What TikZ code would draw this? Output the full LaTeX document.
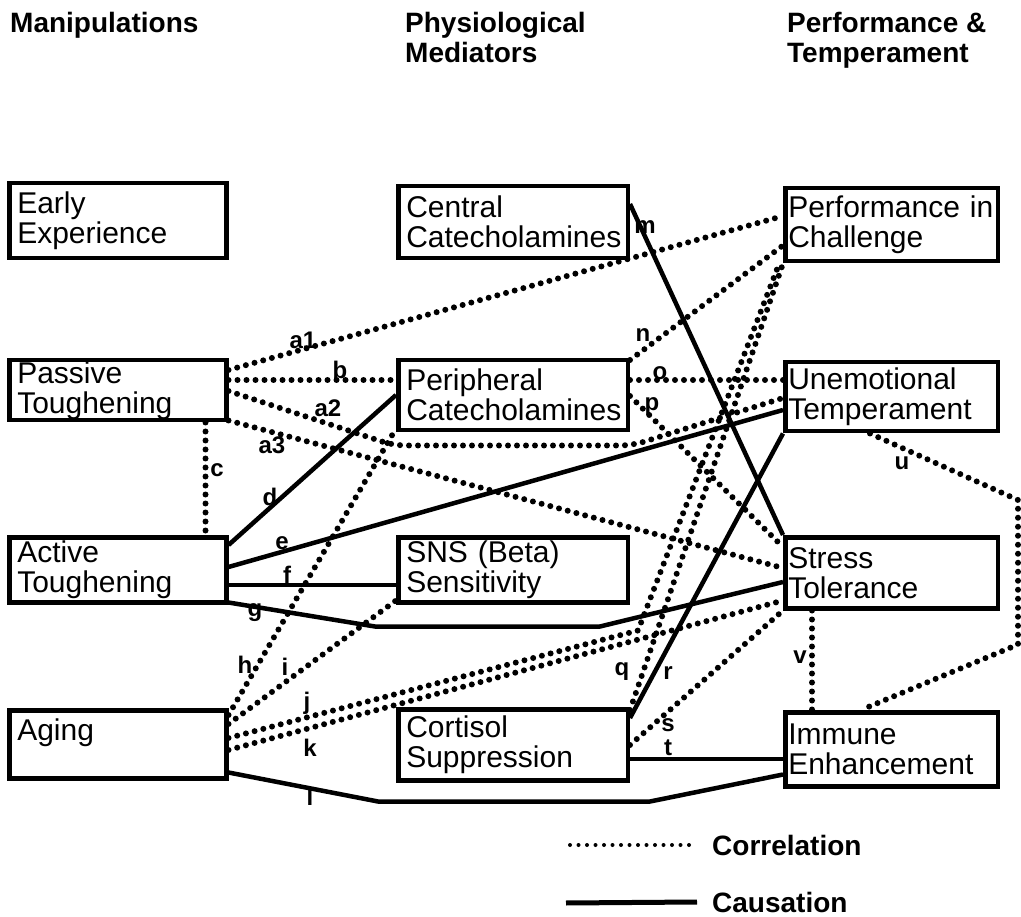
\documentclass[tikz,border=0pt]{standalone}
\usepackage{fontspec}
\setmainfont{Liberation Sans}
\usetikzlibrary{calc}

\begin{document}
\begin{tikzpicture}[x=1pt, y=-1pt,
  box/.style={draw, line width=4.5pt, rectangle, anchor=north west, align=left, inner ysep=1pt, font=\fontsize{30}{30}\selectfont},
  lbox/.style={box, inner xsep=8pt, text width=201pt},
  mbox/.style={box, inner xsep=8pt, text width=213.5pt},
  rbox/.style={box, inner xsep=3pt, text width=206.5pt},
  corr/.style={line width=6pt, line cap=round, dash pattern=on 0pt off 9pt},
  caus/.style={line width=4.5pt, line join=round},
  lbl/.style={font=\fontsize{24}{24}\selectfont\bfseries, inner sep=0pt},
  head/.style={font=\fontsize{28}{30}\selectfont\bfseries, align=left, anchor=north west, inner sep=0pt}]
\useasboundingbox (0,0) rectangle (1021,917);
\node[head] (manip) at (10,12) {Manipulations};
\node[head] (physio) at (405,12) {Physiological\\Mediators};
\node[head] (perfhead) at (787,12) {Performance \&\\Temperament};

\node[lbox, minimum height=75] (early) at (7,181) {Early\\Experience};
\node[lbox, minimum height=60] (passive) at (7,358) {Passive\\Toughening};
\node[lbox, minimum height=65] (active) at (7,535) {Active\\Toughening};
\node[lbox, minimum height=68] (aging) at (7,708) {Aging\\\mbox{}};
\node[mbox, minimum height=72] (central) at (396,184) {Central\\Catecholamines};
\node[mbox, minimum height=70] (peripheral) at (396,358) {Peripheral\\Catecholamines};
\node[mbox, minimum height=65] (sns) at (396,535) {SNS (Beta)\\Sensitivity};
\node[mbox, minimum height=71] (cortisol) at (396,707) {Cortisol\\Suppression};
\node[rbox, minimum height=73] (perf) at (783,186) {\mbox{Performance in}\\Challenge};
\node[rbox, minimum height=69] (unemo) at (783,360) {Unemotional\\Temperament};
\node[rbox, minimum height=71] (stress) at (783,535) {Stress\\Tolerance};
\node[rbox, minimum height=74] (immune) at (783,710) {Immune\\Enhancement};

\draw[corr] ($(passive.north east)+(0,12)$) -- ($(perf.north west)+(0,30)$);
\draw[corr] ($(passive.north east)+(0,22)$) -- ($(peripheral.north west)+(0,22)$);
\draw[corr, rounded corners=12pt] ($(passive.north east)+(0,33)$) -- ($(peripheral.south west)+(-2,13)$) -- ($(peripheral.south east)+(2,13)$) -- ($(unemo.north west)+(0,38)$);
\draw[corr] ($(passive.south east)+(0,-2)$) -- ($(stress.north west)+(0,33)$);
\draw[corr] ($(passive.south east)+(-23,0)$) -- ($(active.north east)+(-23,0)$);
\draw[caus] ($(active.north east)+(0,10)$) -- ($(peripheral.north west)+(0,37)$);
\draw[caus] ($(active.north east)+(0,32)$) -- ($(unemo.north west)+(0,50)$);
\draw[caus] ($(active.north east)+(0,50)$) -- ($(sns.north west)+(0,50)$);
\draw[caus] ($(active.south east)+(0,-2)$) -- ($(sns.south west)+(-21,22)$) -- ($(sns.south east)+(-30,22)$) -- ($(stress.north west)+(0,47)$);
\draw[corr] ($(aging.north east)+(0,7)$) -- ($(peripheral.south west)+(0,-4)$);
\draw[corr] ($(aging.north east)+(0,16)$) -- ($(sns.south west)+(0,-4)$);
\draw[corr] ($(aging.north east)+(0,30)$) -- ($(sns.south east)+(8,26)$) -- ($(perf.south west)+(-3,-2)$);
\draw[corr] ($(aging.north east)+(0,42)$) -- ($(stress.south west)+(0,-10)$);
\draw[caus] ($(aging.south east)+(0,-8)$) -- ($(cortisol.south west)+(-18,19)$) -- ($(cortisol.south east)+(20,19)$) -- ($(immune.south west)+(0,-14)$);
\draw[caus] ($(central.north east)+(0,20)$) -- (stress.north west);
\draw[corr] ($(peripheral.north east)+(0,2)$) -- ($(perf.south west)+(0,-18)$);
\draw[corr] ($(peripheral.north east)+(0,22)$) -- ($(unemo.north west)+(0,20)$);
\draw[corr] ($(peripheral.north east)+(0,38)$) -- ($(stress.north west)+(0,12)$);
\draw[corr] ($(cortisol.north east)+(0,3)$) -- (perf.south west);
\draw[caus] ($(cortisol.north east)+(0,11)$) -- (unemo.south west);
\draw[corr] ($(cortisol.north east)+(0,38)$) -- (stress.south west);
\draw[caus] ($(cortisol.north east)+(0,52)$) -- ($(immune.north west)+(0,49)$);
\draw[corr] ($(unemo.south west)+(87,0)$) -- ($(stress.north east)+(18,-35)$) -- ($(stress.south east)+(18,34)$) -- ($(immune.north west)+(78,0)$);
\draw[corr] ($(stress.south west)+(29,0)$) -- ($(immune.north west)+(29,0)$);

\node[lbl] (la1) at (303,340) {a1};
\node[lbl] (lb) at (340,370) {b};
\node[lbl] (la2) at (328,408) {a2};
\node[lbl] (la3) at (272,445) {a3};
\node[lbl] (lc) at (217,470) {c};
\node[lbl] (ld) at (270,497) {d};
\node[lbl] (le) at (282,543) {e};
\node[lbl] (lf) at (287,575) {f};
\node[lbl] (lg) at (255,613) {g};
\node[lbl] (lh) at (245,665) {h};
\node[lbl] (li) at (285,667) {i};
\node[lbl] (lj) at (307,703) {j};
\node[lbl] (lk) at (310,748) {k};
\node[lbl] (ll) at (310,797) {l};
\node[lbl] (lm) at (645,227) {m};
\node[lbl] (ln) at (643,335) {n};
\node[lbl] (lo) at (660,373) {o};
\node[lbl] (lp) at (652,407) {p};
\node[lbl] (lq) at (622,672) {q};
\node[lbl] (lr) at (668,673) {r};
\node[lbl] (ls) at (668,725) {s};
\node[lbl] (lt) at (668,748) {t};
\node[lbl] (lu) at (902,463) {u};
\node[lbl] (lv) at (800,657) {v};

\coordinate (corrstart) at (570,845);
\coordinate (causstart) at (566,903);
\node[anchor=west, font=\fontsize{28}{30}\selectfont\bfseries, inner sep=0pt] (corrtext) at (712,845) {Correlation};
\node[anchor=west, font=\fontsize{28}{30}\selectfont\bfseries, inner sep=0pt] (caustext) at (712,902) {Causation};
\draw[line width=4pt, line cap=round, dash pattern=on 0pt off 8.5pt] (corrstart) -- ($(corrtext.west)+(-22,0)$);
\draw[line width=5pt] (causstart) -- ($(caustext.west)+(-15,0)$);
\end{tikzpicture}
\end{document}
